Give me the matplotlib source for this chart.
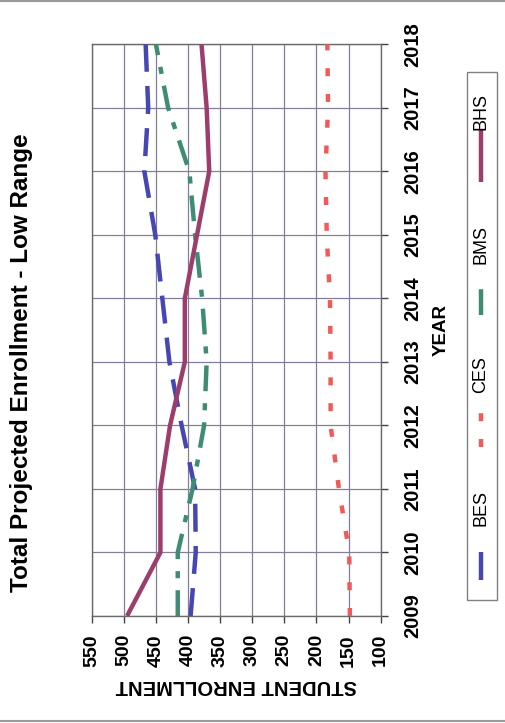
import matplotlib
matplotlib.use("Agg")
import matplotlib.pyplot as plt
from matplotlib.lines import Line2D
from matplotlib.patches import Rectangle

plt.rcParams['font.family'] = ['Liberation Sans', 'DejaVu Sans']

# Projected enrollment, low range
years = [2009, 2010, 2011, 2012, 2013, 2014, 2015, 2016, 2017, 2018]
bhs = [495, 443, 443, 428, 405, 405, 386, 367, 371, 379]
bes = [396, 388, 389, 410, 429, 440, 451, 468, 462, 466]
bms = [416, 416, 393, 375, 371, 378, 389, 398, 431, 450]
ces = [148, 149, 165, 178, 178, 179, 184, 186, 182, 183]
enroll_ticks = [550, 500, 450, 400, 350, 300, 250, 200, 150, 100]

W, H = 506, 723
fig = plt.figure(figsize=(W / 100, H / 100), dpi=100)
fig.patch.set_facecolor('white')


def fx(x):
    return x / W


def fy(y):
    return 1 - y / H


ax = fig.add_axes([fx(91.7), fy(616), fx(380.7) - fx(91.7), fy(44.3) - fy(616)])

lw = 3.2
styles = {
    'BES': dict(color='#4646B4', ls=(0, (6.3, 3.2))),
    'CES': dict(color='#F25A5A', ls=(0, (1.8, 4.0))),
    'BMS': dict(color='#3E8C74', ls=(0, (5.8, 2.7, 1.6, 2.7))),
    'BHS': dict(color='#9C3D6B', ls='-'),
}
series = {'BES': bes, 'CES': ces, 'BMS': bms, 'BHS': bhs}

for name, vals in series.items():
    st = styles[name]
    ax.plot(vals, years, color=st['color'], linestyle=st['ls'], lw=lw,
            solid_capstyle='butt', dash_capstyle='butt', zorder=3)

ax.set_xlim(550, 100)
ax.set_ylim(2009, 2018)
ax.set_xticks(enroll_ticks)
ax.set_yticks(years)
ax.yaxis.tick_right()
ax.grid(True, color='#80809a', lw=0.9)
ax.set_axisbelow(True)
for sp in ax.spines.values():
    sp.set_color('#6a6a6a')
    sp.set_linewidth(1.0)

ax.tick_params(axis='x', direction='out', length=5, width=1, color='#444444',
               pad=8, labelsize=14, labelrotation=90)
ax.tick_params(axis='y', direction='out', length=5, width=1, color='#444444',
               pad=11, labelsize=14.5, labelrotation=90)
for lab in ax.get_xticklabels() + ax.get_yticklabels():
    lab.set_fontweight('bold')
for lab in ax.get_yticklabels():
    lab.set_va('center')
    lab.set_ha('left')

# Titles and axis names
fig.text(fx(22), fy(363), 'Total Projected Enrollment - Low Range',
         rotation=90, ha='center', va='center', fontsize=17.5,
         fontweight='bold')
fig.text(fx(441), fy(330), 'YEAR', rotation=90, ha='center', va='center',
         fontsize=13.5, fontweight='bold')
fig.text(fx(236), fy(686), 'STUDENT ENROLLMENT', rotation=180, ha='center',
         va='center', fontsize=14.5, fontweight='bold')

# Legend box
fig.add_artist(Rectangle((fx(467), fy(600)), fx(497) - fx(467), fy(72) - fy(600),
                         transform=fig.transFigure, fill=False,
                         edgecolor='#808080', lw=1.0))
legend_items = [
    ('BHS', 130, 182, 111),
    ('BMS', 283, 315, 244),
    ('CES', 413, 447, 375),
    ('BES', 548, 580, 508),
]
for name, y0, y1, ylab in legend_items:
    st = styles[name]
    fig.add_artist(Line2D([fx(481), fx(481)], [fy(y1), fy(y0)],
                          transform=fig.transFigure, color=st['color'],
                          linestyle=st['ls'], lw=lw, solid_capstyle='butt',
                          dash_capstyle='butt'))
    fig.text(fx(481), fy(ylab), name, rotation=90, ha='center', va='center',
             fontsize=13)

# Page edges
fig.add_artist(Line2D([0, 1], [fy(1), fy(1)], transform=fig.transFigure,
                      color='#9a9a9a', lw=1.5))
fig.add_artist(Line2D([0, 1], [fy(721), fy(721)], transform=fig.transFigure,
                      color='#9a9a9a', lw=1.5))

fig.savefig('out.png', dpi=100, facecolor='white')
